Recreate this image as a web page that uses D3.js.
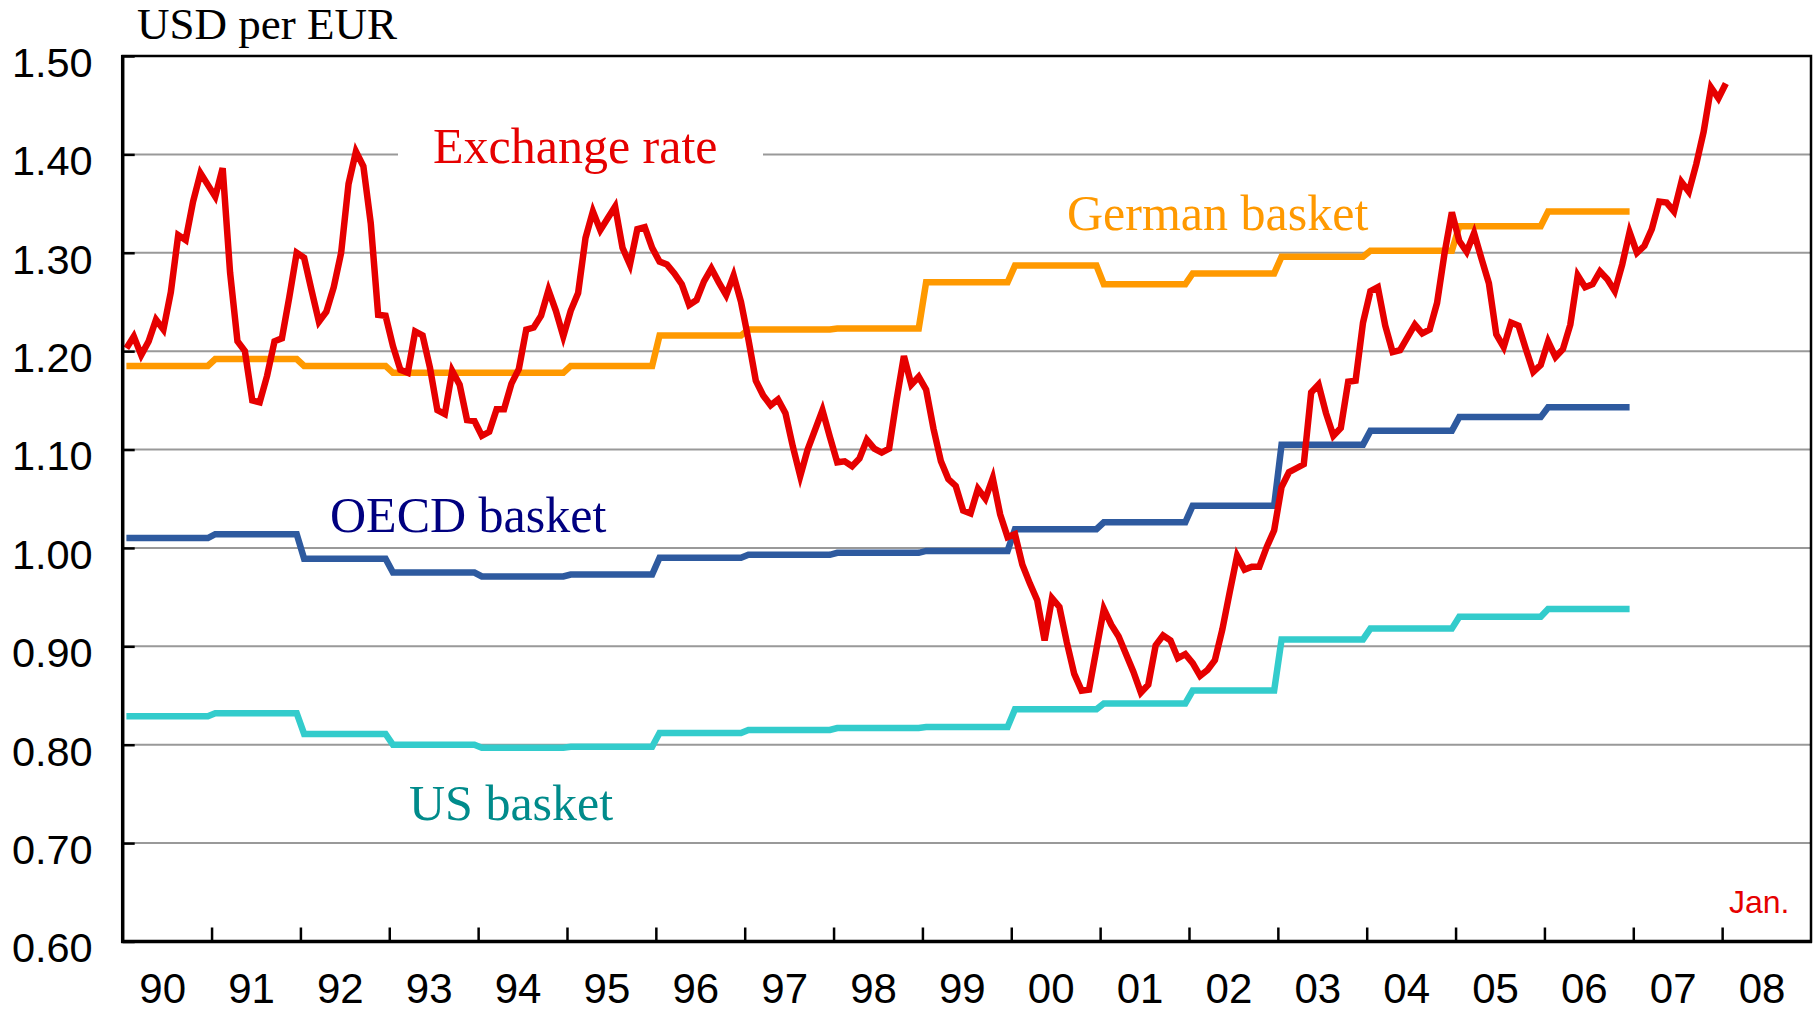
<!DOCTYPE html>
<html>
<head>
<meta charset="utf-8">
<script src="https://d3js.org/d3.v7.min.js"></script>
<style>
body {
  margin: 0;
  padding: 0;
  background: #fff;
}
.grid line {
  stroke: #999;
  stroke-width: 2px;
}
.series {
  fill: none;
  stroke-width: 6.5px;
  stroke-linecap: butt;
}
.axis path {
  display: none;
}
.axis line {
  stroke: #000;
  stroke-width: 2.5px;
}
.axis text {
  font-family: "Liberation Sans", Arial, sans-serif;
  fill: #000;
}
.serif {
  font-family: "Liberation Serif", "Times New Roman", serif;
}
</style>
</head>
<body>
<svg></svg>

<script>
// monthly USD per EUR, Jan 1990 .. Jan 2008 (one row per year)
var exchangeRate = [
  1.203, 1.215, 1.196, 1.210, 1.232, 1.222, 1.260, 1.318, 1.313, 1.352, 1.381, 1.369,
  1.357, 1.386, 1.280, 1.210, 1.200, 1.150, 1.148, 1.175, 1.210, 1.213, 1.255, 1.300,
  1.295, 1.262, 1.230, 1.240, 1.265, 1.300, 1.370, 1.403, 1.388, 1.330, 1.237, 1.236,
  1.205, 1.181, 1.178, 1.220, 1.216, 1.183, 1.140, 1.136, 1.180, 1.166, 1.130, 1.129,
  1.114, 1.118, 1.141, 1.141, 1.167, 1.182, 1.222, 1.224, 1.236, 1.262, 1.241, 1.215,
  1.241, 1.259, 1.315, 1.342, 1.323, 1.335, 1.347, 1.305, 1.288, 1.324, 1.326, 1.305,
  1.291, 1.288, 1.279, 1.268, 1.247, 1.252, 1.271, 1.284, 1.270, 1.257, 1.277, 1.250,
  1.212, 1.170, 1.155, 1.145, 1.151, 1.137, 1.103, 1.073, 1.100, 1.120, 1.140, 1.113,
  1.087, 1.088, 1.083, 1.091, 1.110, 1.101, 1.097, 1.101, 1.150, 1.195, 1.166, 1.174,
  1.161, 1.121, 1.088, 1.070, 1.063, 1.038, 1.035, 1.060, 1.050, 1.071, 1.034, 1.011,
  1.014, 0.983, 0.964, 0.947, 0.906, 0.949, 0.940, 0.904, 0.872, 0.855, 0.856, 0.897,
  0.938, 0.922, 0.910, 0.892, 0.874, 0.853, 0.861, 0.901, 0.911, 0.906, 0.888, 0.892,
  0.883, 0.870, 0.876, 0.886, 0.917, 0.955, 0.992, 0.978, 0.981, 0.981, 1.001, 1.018,
  1.062, 1.077, 1.081, 1.085, 1.158, 1.166, 1.137, 1.114, 1.122, 1.169, 1.170, 1.229,
  1.261, 1.265, 1.226, 1.199, 1.201, 1.214, 1.227, 1.218, 1.222, 1.249, 1.299, 1.341,
  1.312, 1.301, 1.320, 1.294, 1.269, 1.217, 1.204, 1.229, 1.226, 1.202, 1.179, 1.186,
  1.210, 1.194, 1.202, 1.227, 1.277, 1.265, 1.268, 1.281, 1.273, 1.261, 1.288, 1.321,
  1.300, 1.307, 1.324, 1.352, 1.351, 1.342, 1.372, 1.362, 1.390, 1.423, 1.468, 1.457,
  1.472
];

// purchasing power parity baskets, one value per year 1990 .. 2006
var basketYears = d3.range(1990, 2007);
var germanBasket = [1.185, 1.192, 1.185, 1.178, 1.178, 1.185, 1.216, 1.222, 1.223,
  1.270, 1.287, 1.268, 1.279, 1.296, 1.302, 1.327, 1.342];
var oecdBasket = [1.010, 1.014, 0.989, 0.975, 0.971, 0.973, 0.990, 0.993, 0.995,
  0.997, 1.019, 1.026, 1.043, 1.105, 1.119, 1.133, 1.143];
var usBasket = [0.829, 0.832, 0.811, 0.800, 0.797, 0.798, 0.812, 0.815, 0.817,
  0.818, 0.836, 0.842, 0.855, 0.907, 0.918, 0.930, 0.938];

var yTicks = [0.60, 0.70, 0.80, 0.90, 1.00, 1.10, 1.20, 1.30, 1.40, 1.50];
var xTickLabels = ['90', '91', '92', '93', '94', '95', '96', '97', '98', '99',
  '00', '01', '02', '03', '04', '05', '06', '07', '08'];

var width = 1820,
  height = 1013;

var svg = d3.select('svg')
  .attr('width', width)
  .attr('height', height);

var plotLeft = 122.7, plotRight = 1811, plotTop = 56, plotBottom = 941.5;

var x = d3.scaleLinear().domain([1990, 2009]).range([plotLeft, plotRight]);
var y = d3.scaleLinear().domain([0.6, 1.5]).range([plotBottom, plotTop]);

// gridlines
svg.append('g')
  .attr('class', 'grid')
  .selectAll('line')
  .data(yTicks.slice(1, -1))
  .enter().append('line')
  .attr('x1', plotLeft)
  .attr('x2', plotRight)
  .attr('y1', function(d) { return y(d); })
  .attr('y2', function(d) { return y(d); });

// white boxes behind labels that sit on gridlines
svg.append('rect')
  .attr('x', 398).attr('y', 118).attr('width', 365).attr('height', 58)
  .attr('fill', '#fff');
svg.append('rect')
  .attr('x', 334).attr('y', 490).attr('width', 286).attr('height', 50)
  .attr('fill', '#fff');

// series
var monthLine = d3.line()
  .x(function(d, i) { return x(1990 + (i + 0.5) / 12); })
  .y(function(d) { return y(d); });

function basketPoints(values) {
  var pts = [];
  values.forEach(function(v, i) {
    pts.push([basketYears[i] + 0.5 / 12, v]);
    pts.push([basketYears[i] + 11.5 / 12, v]);
  });
  return pts;
}

var stepLine = d3.line()
  .x(function(d) { return x(d[0]); })
  .y(function(d) { return y(d[1]); });

svg.append('path').attr('class', 'series')
  .attr('stroke', '#33cccc')
  .attr('d', stepLine(basketPoints(usBasket)));

svg.append('path').attr('class', 'series')
  .attr('stroke', '#2e5a9f')
  .attr('d', stepLine(basketPoints(oecdBasket)));

svg.append('path').attr('class', 'series')
  .attr('stroke', '#ff9900')
  .attr('d', stepLine(basketPoints(germanBasket)));

svg.append('path').attr('class', 'series')
  .attr('stroke', '#e60000')
  .attr('d', monthLine(exchangeRate));

// frame
svg.append('rect')
  .attr('x', plotLeft).attr('y', plotTop)
  .attr('width', plotRight - plotLeft).attr('height', plotBottom - plotTop)
  .attr('fill', 'none')
  .attr('stroke', '#000')
  .attr('stroke-width', 2.5);
svg.append('line')
  .attr('x1', plotLeft).attr('x2', plotLeft).attr('y1', plotTop - 1).attr('y2', plotBottom + 1.5)
  .attr('stroke', '#000').attr('stroke-width', 3.5);
svg.append('line')
  .attr('x1', plotLeft - 1.5).attr('x2', plotRight + 1).attr('y1', plotBottom).attr('y2', plotBottom)
  .attr('stroke', '#000').attr('stroke-width', 3.5);

// y axis
var yAxis = svg.append('g')
  .attr('class', 'axis')
  .attr('transform', 'translate(' + plotLeft + ',0)')
  .call(d3.axisLeft(y)
    .tickValues(yTicks)
    .tickFormat(d3.format('.2f'))
    .tickSizeInner(-12)
    .tickSizeOuter(0)
    .tickPadding(30));
yAxis.selectAll('text')
  .attr('font-size', 41.5)
  .attr('dy', '0.49em');

// x axis: tick marks at year boundaries
svg.append('g')
  .attr('class', 'axis')
  .attr('transform', 'translate(0,' + plotBottom + ')')
  .call(d3.axisBottom(x)
    .tickValues(d3.range(1991, 2009))
    .tickFormat('')
    .tickSizeInner(-14)
    .tickSizeOuter(0));

// x axis: year labels centred in each year
var xLabels = svg.append('g')
  .attr('class', 'axis')
  .attr('transform', 'translate(-5,' + plotBottom + ')')
  .call(d3.axisBottom(x)
    .tickValues(d3.range(1990, 2009).map(function(d) { return d + 0.5; }))
    .tickFormat(function(d, i) { return xTickLabels[i]; })
    .tickSize(0)
    .tickPadding(0));
xLabels.selectAll('line').remove();
xLabels.selectAll('text')
  .attr('font-size', 42)
  .attr('dy', null)
  .attr('y', 61.5);

// titles and labels
svg.append('text').attr('class', 'serif')
  .attr('x', 137).attr('y', 39)
  .attr('font-size', 45)
  .text('USD per EUR');

svg.append('text').attr('class', 'serif')
  .attr('x', 433).attr('y', 163)
  .attr('font-size', 50)
  .attr('fill', '#e60000')
  .text('Exchange rate');

svg.append('text').attr('class', 'serif')
  .attr('x', 1067).attr('y', 230)
  .attr('font-size', 50)
  .attr('fill', '#ff9900')
  .text('German basket');

svg.append('text').attr('class', 'serif')
  .attr('x', 330).attr('y', 532)
  .attr('font-size', 50)
  .attr('fill', '#000080')
  .text('OECD basket');

svg.append('text').attr('class', 'serif')
  .attr('x', 409).attr('y', 820)
  .attr('font-size', 50)
  .attr('fill', '#008b8b')
  .text('US basket');

svg.append('text')
  .attr('x', 1729).attr('y', 913)
  .attr('font-family', '"Liberation Sans", Arial, sans-serif')
  .attr('font-size', 32)
  .attr('fill', '#e60000')
  .text('Jan.');
</script>
</body>
</html>
